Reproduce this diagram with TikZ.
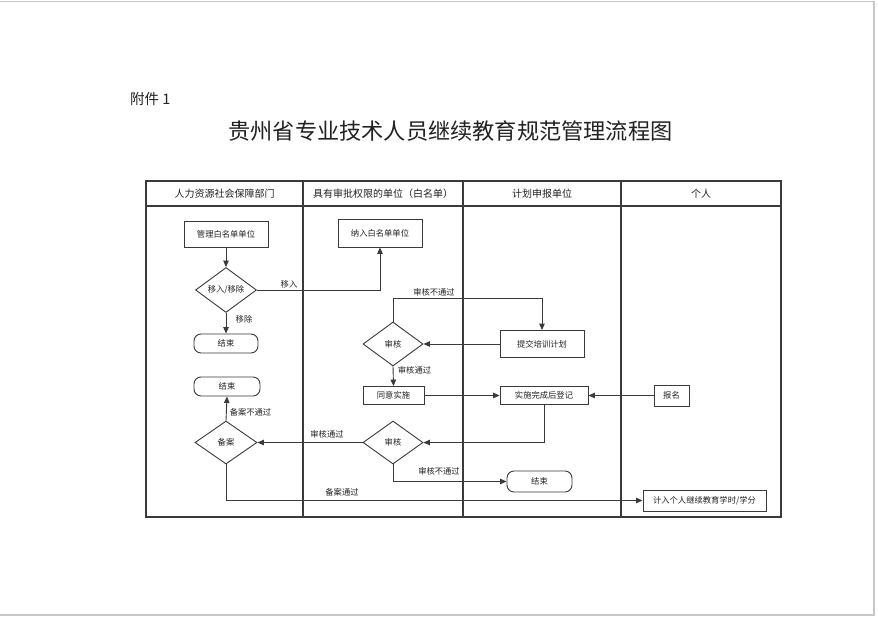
\documentclass[tikz,border=0pt]{standalone}
\usepackage{fontspec}
\setmainfont{Noto Sans CJK SC}
\usetikzlibrary{shapes.geometric,arrows.meta}
\definecolor{ln}{HTML}{3A3A3A}
\definecolor{tx}{HTML}{222222}
\begin{document}
\begin{tikzpicture}[x=1pt,y=-1pt,
  every node/.style={text=tx, inner sep=0pt},
  box/.style={draw=ln, line width=0.9pt, rectangle, minimum height=#1, font=\fontsize{8.3pt}{9pt}\selectfont},
  box/.default=26pt,
  term/.style={draw=ln, line width=0.9pt, rectangle, rounded corners=7pt, minimum height=20pt, font=\fontsize{8.3pt}{9pt}\selectfont},
  dia/.style={draw=ln, line width=0.9pt, diamond, minimum width=61pt, minimum height=43pt, font=\fontsize{8.3pt}{9pt}\selectfont},
  lbl/.style={font=\fontsize{8.3pt}{9pt}\selectfont},
  hdr/.style={font=\fontsize{10pt}{11pt}\selectfont},
  arr/.style={draw=ln, line width=0.9pt, -{Triangle[length=6.5pt,width=5.5pt]}},
  con/.style={draw=ln, line width=0.9pt},
  frame/.style={draw=ln, line width=1.4pt}
]
\useasboundingbox (0,0) rectangle (878,616);
\fill[white] (0,0) rectangle (878,616);
\draw[draw=black!22, line width=1.5pt] (-2,1.5) rectangle (874,615);

% title
\node[font=\fontsize{14.5pt}{16pt}\selectfont, anchor=west] (att) at (130,99) {附件 1};
\node[font=\fontsize{22.2pt}{24pt}\selectfont] (title) at (450.5,131) {贵州省专业技术人员继续教育规范管理流程图};

% swimlane frame
\draw[frame] (146,181) rectangle (781,517);
\draw[frame] (146,206) -- (781,206);
\draw[frame] (303,181) -- (303,517);
\draw[frame] (463,181) -- (463,517);
\draw[frame] (621,181) -- (621,517);
\node[hdr] (h1) at (224.5,193.5) {人力资源社会保障部门};
\node[hdr] (h2) at (383,193.5) {具有审批权限的单位（白名单）};
\node[hdr] (h3) at (542,193.5) {计划申报单位};
\node[hdr] (h4) at (701,193.5) {个人};

% nodes
\node[box, minimum width=84pt] (gl) at (226,234) {管理白名单单位};
\node[dia] (mv) at (226,290) {移入/移除};
\node[term, minimum width=64pt, minimum height=19pt] (e1) at (226,343.5) {结束};
\node[box, minimum width=84pt, minimum height=28pt] (nr) at (380,233) {纳入白名单单位};
\node[dia, minimum width=60pt, minimum height=44pt] (sh1) at (393,344) {审核};
\node[box, minimum width=84pt, minimum height=27pt] (tj) at (542,344) {提交培训计划};
\node[box, minimum width=61pt, minimum height=18pt] (ty) at (393.5,395.5) {同意实施};
\node[box, minimum width=88pt, minimum height=18pt] (sw) at (544,395.5) {实施完成后登记};
\node[box, minimum width=35pt, minimum height=21pt] (bm) at (671.5,395.5) {报名};
\node[term, minimum width=66pt, minimum height=19pt] (e2) at (227,386.5) {结束};
\node[dia, minimum width=62pt, minimum height=43pt] (ba) at (226,442.5) {备案};
\node[dia, minimum width=60pt, minimum height=43pt] (sh2) at (393,442.5) {审核};
\node[term, minimum width=65pt, minimum height=21pt] (e3) at (539.5,481.5) {结束};
\node[box, minimum width=123pt, minimum height=21pt] (jr) at (704.5,500.5) {计入个人继续教育学时/学分};

% connectors
\draw[arr] (gl.south) -- (mv.north);
\draw[arr] (mv.south) -- (e1.north);
\draw[arr] (mv.east) -| (nr.south);
\draw[arr] (sh1.north) -- ++(0,-23) -| (tj.north);
\draw[arr] (tj.west) -- (sh1.east);
\draw[arr] (sh1.south) -- (ty.north);
\draw[arr] (ty.east) -- (sw.west);
\draw[arr] (bm.west) -- (sw.east);
\draw[arr] (sw.south) |- (sh2.east);
\draw[arr] (sh2.west) -- (ba.east);
\draw[arr] (ba.north) -- (e2.south);
\draw[arr] (sh2.south) |- (e3.west);
\draw[arr] (ba.south) |- (jr.west);

% labels
\node[lbl] (l1) at (289,284) {移入};
\node[lbl] (l2) at (244,319) {移除};
\node[lbl] (l3) at (434,292) {审核不通过};
\node[lbl] (l4) at (414.5,370) {审核通过};
\node[lbl] (l5) at (250.5,412) {备案不通过};
\node[lbl] (l6) at (327,434) {审核通过};
\node[lbl] (l7) at (439,471) {审核不通过};
\node[lbl] (l8) at (342,492) {备案通过};
\end{tikzpicture}
\end{document}
